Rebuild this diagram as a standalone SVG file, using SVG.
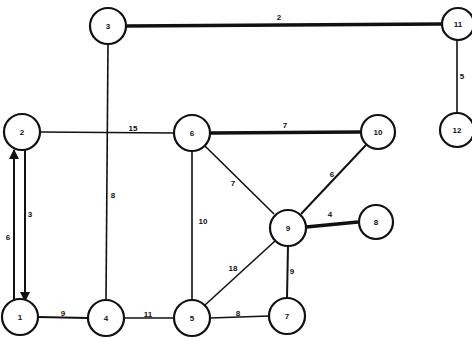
<svg xmlns="http://www.w3.org/2000/svg" width="472" height="338" viewBox="0 0 472 338">
<defs>
<style>
.n circle{fill:#fff;stroke:#111;stroke-width:2.2}
.n text,.lb{font-family:"Liberation Sans",Arial,sans-serif;font-weight:bold;fill:#111;text-anchor:middle}
.n text{font-size:8px}
.lb{font-size:8px}
.e{stroke:#111;fill:none;stroke-width:1.6}
.t{stroke-width:3.6}
.m{stroke-width:2}
</style>
<marker id="ah" viewBox="0 0 10 10" refX="9" refY="5" markerWidth="5" markerHeight="5" orient="auto"><path d="M0,0L10,5L0,10z" fill="#111"/></marker>
</defs>
<rect width="472" height="338" fill="#fff"/>
<g id="connectors">
<line class="e t" x1="126" y1="26" x2="442" y2="24"/>
<line class="e" x1="457" y1="40" x2="457" y2="113"/>
<line class="e" x1="40" y1="132" x2="174" y2="133"/>
<line class="e t" x1="210" y1="133" x2="360" y2="132"/>
<line class="e" x1="205" y1="146" x2="274" y2="214"/>
<line class="e m" x1="366" y1="145" x2="301" y2="214"/>
<line class="e t" x1="306" y1="227" x2="358" y2="222"/>
<line class="e" x1="192" y1="151" x2="192" y2="300"/>
<line class="e" x1="205" y1="305" x2="275" y2="241"/>
<line class="e m" x1="288" y1="246" x2="287" y2="298"/>
<line class="e" x1="108" y1="44" x2="106" y2="300"/>
<line class="e m" x1="38" y1="317" x2="88" y2="318"/>
<line class="e" x1="124" y1="318" x2="174" y2="318"/>
<line class="e" x1="210" y1="318" x2="269" y2="316"/>
<line class="e m" x1="14" y1="301" x2="14" y2="150" marker-end="url(#ah)"/>
<line class="e m" x1="25" y1="150" x2="25" y2="301" marker-end="url(#ah)"/>
<text class="lb" x="279" y="20">2</text>
<text class="lb" x="462" y="79">5</text>
<text class="lb" x="133" y="131">15</text>
<text class="lb" x="285" y="128">7</text>
<text class="lb" x="233" y="186">7</text>
<text class="lb" x="332" y="177">6</text>
<text class="lb" x="330" y="217">4</text>
<text class="lb" x="203" y="224">10</text>
<text class="lb" x="233" y="271">18</text>
<text class="lb" x="292" y="274">9</text>
<text class="lb" x="113" y="198">8</text>
<text class="lb" x="63" y="316">9</text>
<text class="lb" x="148" y="317">11</text>
<text class="lb" x="238" y="316">8</text>
<text class="lb" x="30" y="217">3</text>
<text class="lb" x="8" y="240">6</text>
</g>
<g id="node-3" class="n"><circle cx="108" cy="26" r="18"/><text x="108" y="29">3</text></g>
<g id="node-11" class="n"><circle cx="458" cy="24" r="16"/><text x="458" y="27">11</text></g>
<g id="node-2" class="n"><circle cx="22" cy="132" r="18"/><text x="22" y="135">2</text></g>
<g id="node-6" class="n"><circle cx="192" cy="133" r="18"/><text x="192" y="136">6</text></g>
<g id="node-10" class="n"><circle cx="378" cy="132" r="17"/><text x="378" y="135">10</text></g>
<g id="node-12" class="n"><circle cx="457" cy="130" r="17"/><text x="457" y="133">12</text></g>
<g id="node-9" class="n"><circle cx="288" cy="228" r="18"/><text x="288" y="231">9</text></g>
<g id="node-8" class="n"><circle cx="376" cy="222" r="17"/><text x="376" y="225">8</text></g>
<g id="node-1" class="n"><circle cx="20" cy="317" r="18"/><text x="20" y="320">1</text></g>
<g id="node-4" class="n"><circle cx="106" cy="318" r="18"/><text x="106" y="321">4</text></g>
<g id="node-5" class="n"><circle cx="192" cy="318" r="18"/><text x="192" y="321">5</text></g>
<g id="node-7" class="n"><circle cx="287" cy="316" r="18"/><text x="287" y="319">7</text></g>
</svg>
